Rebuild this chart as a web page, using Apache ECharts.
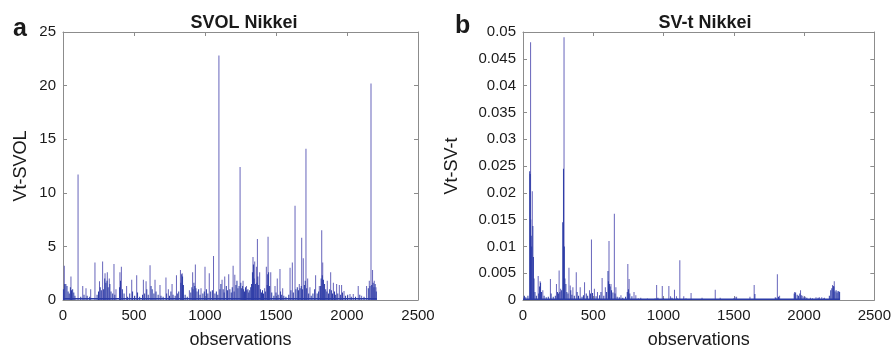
<!DOCTYPE html>
<html><head><meta charset="utf-8">
<script src="https://cdn.jsdelivr.net/npm/echarts@6/dist/echarts.min.js"></script>
<style>html,body{margin:0;padding:0;background:#fff}#c{width:894px;height:354px}</style>
</head><body><div id="c"></div>
<script>
// ---- Data (observation index, value) ----
const xTicks = [0, 500, 1000, 1500, 2000, 2500];
const svolTicks = [0, 5, 10, 15, 20, 25];
const svtTicks = [0, 0.005, 0.01, 0.015, 0.02, 0.025, 0.03, 0.035, 0.04, 0.045, 0.05];

// Panel a: SVOL Nikkei - isolated spikes
const svolPeaks = [[9,3.2],[56,2.2],[106,11.7],[139,1.3],[162,1.1],[195,1.0],[225,3.5],[257,1.75],[279,3.6],[296,2.5],[312,2.6],[326,2.0],[359,3.35],[373,1.0],[401,2.6],[411,3.1],[448,1.3],[484,1.9],[519,2.3],[566,1.9],[585,1.75],[613,3.25],[648,1.9],[683,1.4],[725,2.1],[742,1.0],[768,1.5],[799,2.3],[827,2.8],[839,2.5],[890,0.9],[913,2.6],[932,3.3],[972,1.1],[1000,3.1],[1030,2.5],[1060,4.1],[1098,22.8],[1120,1.9],[1139,2.2],[1167,2.4],[1198,3.2],[1210,2.35],[1247,12.4],[1268,1.8],[1292,1.3],[1338,4.0],[1350,3.6],[1362,3.1],[1369,5.7],[1385,2.6],[1420,1.1],[1432,3.1],[1444,5.9],[1463,2.6],[1493,1.3],[1509,2.0],[1528,2.9],[1547,1.1],[1599,3.0],[1615,3.5],[1634,8.8],[1664,1.5],[1681,5.8],[1692,3.9],[1711,14.1],[1723,2.0],[1739,1.2],[1779,2.3],[1805,1.3],[1822,6.5],[1829,3.5],[1861,1.8],[1885,2.6],[1904,1.6],[1927,1.5],[1946,1.4],[1962,1.4],[1979,0.85],[2021,0.55],[2044,0.55],[2079,1.3],[2103,0.4],[2138,1.3],[2157,1.8],[2169,20.2],[2180,2.8],[2192,1.8],[2204,1.2]];
// Panel a: dense low-level activity
const svolDense = [[3,1.0],[12,1.5],[20,1.5],[28,1.3],[36,0.8],[44,0.6],[52,1.2],[60,0.9],[68,1.0],[76,0.7],[84,0.4],[125,0.3],[148,0.5],[170,0.4],[188,0.3],[240,0.5],[250,0.8],[262,1.2],[270,0.9],[286,1.0],[294,2.0],[302,1.6],[310,1.8],[318,1.2],[330,1.5],[338,0.8],[350,0.6],[365,0.5],[398,1.2],[405,1.8],[418,1.0],[430,0.6],[455,0.3],[470,0.6],[490,0.8],[505,0.4],[525,0.7],[540,0.3],[560,0.5],[575,0.6],[590,1.0],[600,0.5],[620,1.3],[628,1.0],[640,0.6],[655,0.8],[670,0.5],[690,0.4],[705,0.3],[730,0.6],[750,0.4],[760,0.8],[775,0.5],[790,0.4],[805,0.6],[815,0.8],[830,1.6],[836,2.4],[842,2.2],[848,1.4],[860,0.5],[875,0.3],[900,0.7],[908,1.2],[916,1.0],[922,1.6],[928,1.3],[936,1.1],[944,0.8],[955,1.0],[965,0.5],[985,0.6],[995,0.8],[1010,1.0],[1020,0.6],[1040,0.8],[1052,0.9],[1070,0.6],[1080,0.8],[1090,0.5],[1105,1.0],[1112,1.5],[1128,1.0],[1135,0.7],[1150,1.3],[1158,0.9],[1175,1.0],[1185,0.7],[1192,1.2],[1205,0.8],[1218,1.4],[1225,1.8],[1232,1.1],[1240,1.3],[1252,1.6],[1258,1.1],[1265,1.3],[1272,1.0],[1278,0.8],[1285,1.2],[1295,0.9],[1302,1.0],[1308,0.7],[1315,0.9],[1322,1.2],[1328,1.5],[1334,2.6],[1341,3.3],[1346,2.0],[1355,1.5],[1366,1.6],[1372,2.2],[1378,1.4],[1390,1.0],[1398,0.7],[1405,0.9],[1412,0.6],[1425,0.8],[1438,1.4],[1442,2.4],[1448,2.6],[1455,1.3],[1470,0.7],[1485,0.4],[1500,0.7],[1515,0.5],[1532,0.8],[1540,0.5],[1555,0.4],[1570,0.3],[1590,0.5],[1605,0.9],[1622,0.7],[1640,1.0],[1650,1.2],[1658,0.9],[1670,1.1],[1678,1.3],[1686,1.0],[1700,1.4],[1706,1.8],[1716,1.1],[1730,0.6],[1748,0.4],[1760,0.6],[1772,1.0],[1790,0.6],[1800,0.8],[1814,1.3],[1818,2.0],[1826,2.3],[1834,1.9],[1842,1.5],[1850,1.0],[1858,0.8],[1870,0.6],[1878,1.0],[1890,0.9],[1898,0.6],[1912,0.8],[1920,0.5],[1935,0.6],[1955,0.5],[1968,0.7],[1990,0.4],[2005,0.5],[2030,0.3],[2060,0.3],[2090,0.5],[2120,0.3],[2150,1.1],[2162,1.3],[2174,1.4],[2184,1.6],[2190,1.2],[2198,1.5],[2206,0.8]];
const svolFloor = [[0,0.12],[2210,0.12]];

// Panel b: SV-t Nikkei - isolated spikes
const svtPeaks = [[7,0.0006],[54,0.0481],[66,0.0203],[108,0.0045],[122,0.0035],[141,0.0018],[195,0.0039],[238,0.003],[257,0.0055],[268,0.0021],[292,0.049],[327,0.006],[336,0.0027],[355,0.0024],[379,0.0052],[407,0.0024],[438,0.0033],[473,0.0018],[487,0.0113],[508,0.0021],[530,0.0015],[563,0.0041],[586,0.0024],[612,0.011],[626,0.003],[650,0.0161],[661,0.0024],[697,0.0009],[746,0.0067],[755,0.0039],[790,0.0015],[803,0.0009],[838,0.0004],[885,0.0003],[951,0.0028],[991,0.0026],[1038,0.0026],[1050,0.0007],[1078,0.0019],[1092,0.0007],[1116,0.0074],[1144,0.0007],[1196,0.0013],[1274,0.0004],[1368,0.0019],[1403,0.0004],[1509,0.0006],[1520,0.0006],[1615,0.0006],[1645,0.0028],[1795,0.0005],[1810,0.0048],[1826,0.0008],[1933,0.0015],[1975,0.0018],[1991,0.0008],[2008,0.0006],[2045,0.0004],[2085,0.0005],[2109,0.0005],[2126,0.0005],[2145,0.0004],[2203,0.0028],[2215,0.0035]];
// Panel b: dense low-level activity
const svtDense = [[10,0.0008],[20,0.0005],[35,0.0008],[48,0.024],[51,0.0235],[55,0.015],[58,0.012],[62,0.01],[70,0.0138],[74,0.008],[78,0.004],[85,0.0015],[95,0.0008],[112,0.0012],[118,0.0025],[125,0.0032],[132,0.0015],[150,0.0008],[165,0.0005],[180,0.0006],[200,0.0012],[215,0.0006],[230,0.0008],[245,0.0015],[252,0.0012],[262,0.0015],[275,0.0018],[283,0.0145],[288,0.0245],[294,0.01],[298,0.004],[305,0.003],[312,0.0015],[320,0.0012],[340,0.0018],[348,0.001],[365,0.0008],[385,0.0015],[395,0.0008],[420,0.0006],[430,0.0009],[450,0.0012],[460,0.0008],[480,0.0012],[495,0.0013],[520,0.0007],[545,0.0009],[555,0.0015],[575,0.0008],[595,0.0015],[605,0.0054],[608,0.0035],[615,0.003],[620,0.0025],[630,0.0018],[640,0.0014],[655,0.0012],[670,0.0006],[685,0.0005],[710,0.0004],[730,0.0006],[742,0.0015],[750,0.002],[760,0.0012],[775,0.0007],[820,0.0003],[860,0.0002],[900,0.0002],[940,0.0003],[960,0.0004],[1000,0.0003],[1060,0.0004],[1100,0.0003],[1160,0.0003],[1230,0.0002],[1320,0.0002],[1450,0.0002],[1500,0.0003],[1560,0.0002],[1650,0.0011],[1700,0.0002],[1800,0.0004],[1818,0.0006],[1930,0.0012],[1940,0.0014],[1951,0.001],[1960,0.0008],[1970,0.0012],[1980,0.0009],[2000,0.0005],[2020,0.0004],[2060,0.0003],[2100,0.0004],[2140,0.0003],[2180,0.0008],[2190,0.0018],[2198,0.0022],[2208,0.0026],[2212,0.0025],[2220,0.0016],[2228,0.0018],[2235,0.0014],[2242,0.0017],[2248,0.0016],[2253,0.0015]];
const svtFloor = [[0,0.00015],[2255,0.00015]];

// ---- Chart ----
const FONT = 'Liberation Sans';
const boxColor = '#8c8c8c';
const txt = '#1a1a1a';
const chart = echarts.init(document.getElementById('c'), null, {renderer: 'canvas'});

function xAxes(gi) {
  const base = {gridIndex: gi, type: 'value', min: xTicks[0], max: xTicks[xTicks.length - 1],
    interval: xTicks[1] - xTicks[0],
    axisLine: {show: true, onZero: false, lineStyle: {color: boxColor, width: 1}},
    axisTick: {show: true, inside: true, length: 4, lineStyle: {color: boxColor}},
    splitLine: {show: false}};
  return [
    Object.assign({}, base, {position: 'bottom',
      name: 'observations', nameLocation: 'middle', nameGap: 31,
      nameTextStyle: {fontFamily: FONT, fontSize: 18, color: txt},
      axisLabel: {show: true, margin: 8, fontFamily: FONT, fontSize: 15, color: txt,
        formatter: v => String(v)}}),
    Object.assign({}, base, {position: 'top', axisLabel: {show: false}})
  ];
}
function yAxes(gi, ticks, name, gap) {
  const base = {gridIndex: gi, type: 'value', min: ticks[0], max: ticks[ticks.length - 1],
    interval: ticks[1] - ticks[0],
    axisLine: {show: true, onZero: false, lineStyle: {color: boxColor, width: 1}},
    axisTick: {show: true, inside: true, length: 4, lineStyle: {color: boxColor}},
    splitLine: {show: false}};
  return [
    Object.assign({}, base, {position: 'left',
      name: name, nameLocation: 'middle', nameGap: gap, nameRotate: 90,
      nameTextStyle: {fontFamily: FONT, fontSize: 18, color: txt},
      axisLabel: {show: true, margin: 7, fontFamily: FONT, fontSize: 15, color: txt,
        formatter: v => String(+v.toFixed(4))}}),
    Object.assign({}, base, {position: 'right', axisLabel: {show: false}})
  ];
}
function spikes(data, xi, yi, color, name) {
  return {type: 'bar', name: name, xAxisIndex: xi, yAxisIndex: yi, data: data,
    barWidth: 1, barGap: '-100%', silent: true, animation: false,
    itemStyle: {color: color}};
}
function floor(data, xi, yi) {
  return {type: 'line', xAxisIndex: xi, yAxisIndex: yi, data: data, symbol: 'none',
    silent: true, animation: false, lineStyle: {color: '#2b3aa6', width: 1.5}};
}

chart.setOption({
  animation: false,
  backgroundColor: '#ffffff',
  title: [
    {text: 'SVOL Nikkei', left: 239, top: 9, textAlign: 'center',
      textStyle: {fontFamily: FONT, fontSize: 18, fontWeight: 'bold', color: txt}},
    {text: 'SV-t Nikkei', left: 700, top: 9, textAlign: 'center',
      textStyle: {fontFamily: FONT, fontSize: 18, fontWeight: 'bold', color: txt}},
    {text: 'a', left: 8, top: 12,
      textStyle: {fontFamily: FONT, fontSize: 25, fontWeight: 'bold', color: txt}},
    {text: 'b', left: 450, top: 9,
      textStyle: {fontFamily: FONT, fontSize: 25, fontWeight: 'bold', color: txt}}
  ],
  grid: [
    {left: 63, top: 32, width: 355, height: 277, containLabel: false},
    {left: 523, top: 32, width: 354, height: 278, containLabel: false}
  ],
  xAxis: xAxes(0).concat(xAxes(1)),
  yAxis: yAxes(0, svolTicks, 'Vt-SVOL', 33).concat(yAxes(1, svtTicks, 'Vt-SV-t', 62)),
  series: [
    floor(svolFloor, 0, 0),
    spikes(svolPeaks, 0, 0, '#6664bb', 'svolPeaks'),
    spikes(svolDense, 0, 0, '#2b3aa6', 'svolDense'),
    floor(svtFloor, 2, 2),
    spikes(svtPeaks, 2, 2, '#6664bb', 'svtPeaks'),
    spikes(svtDense, 2, 2, '#2b3aa6', 'svtDense')
  ]
});
</script></body></html>
